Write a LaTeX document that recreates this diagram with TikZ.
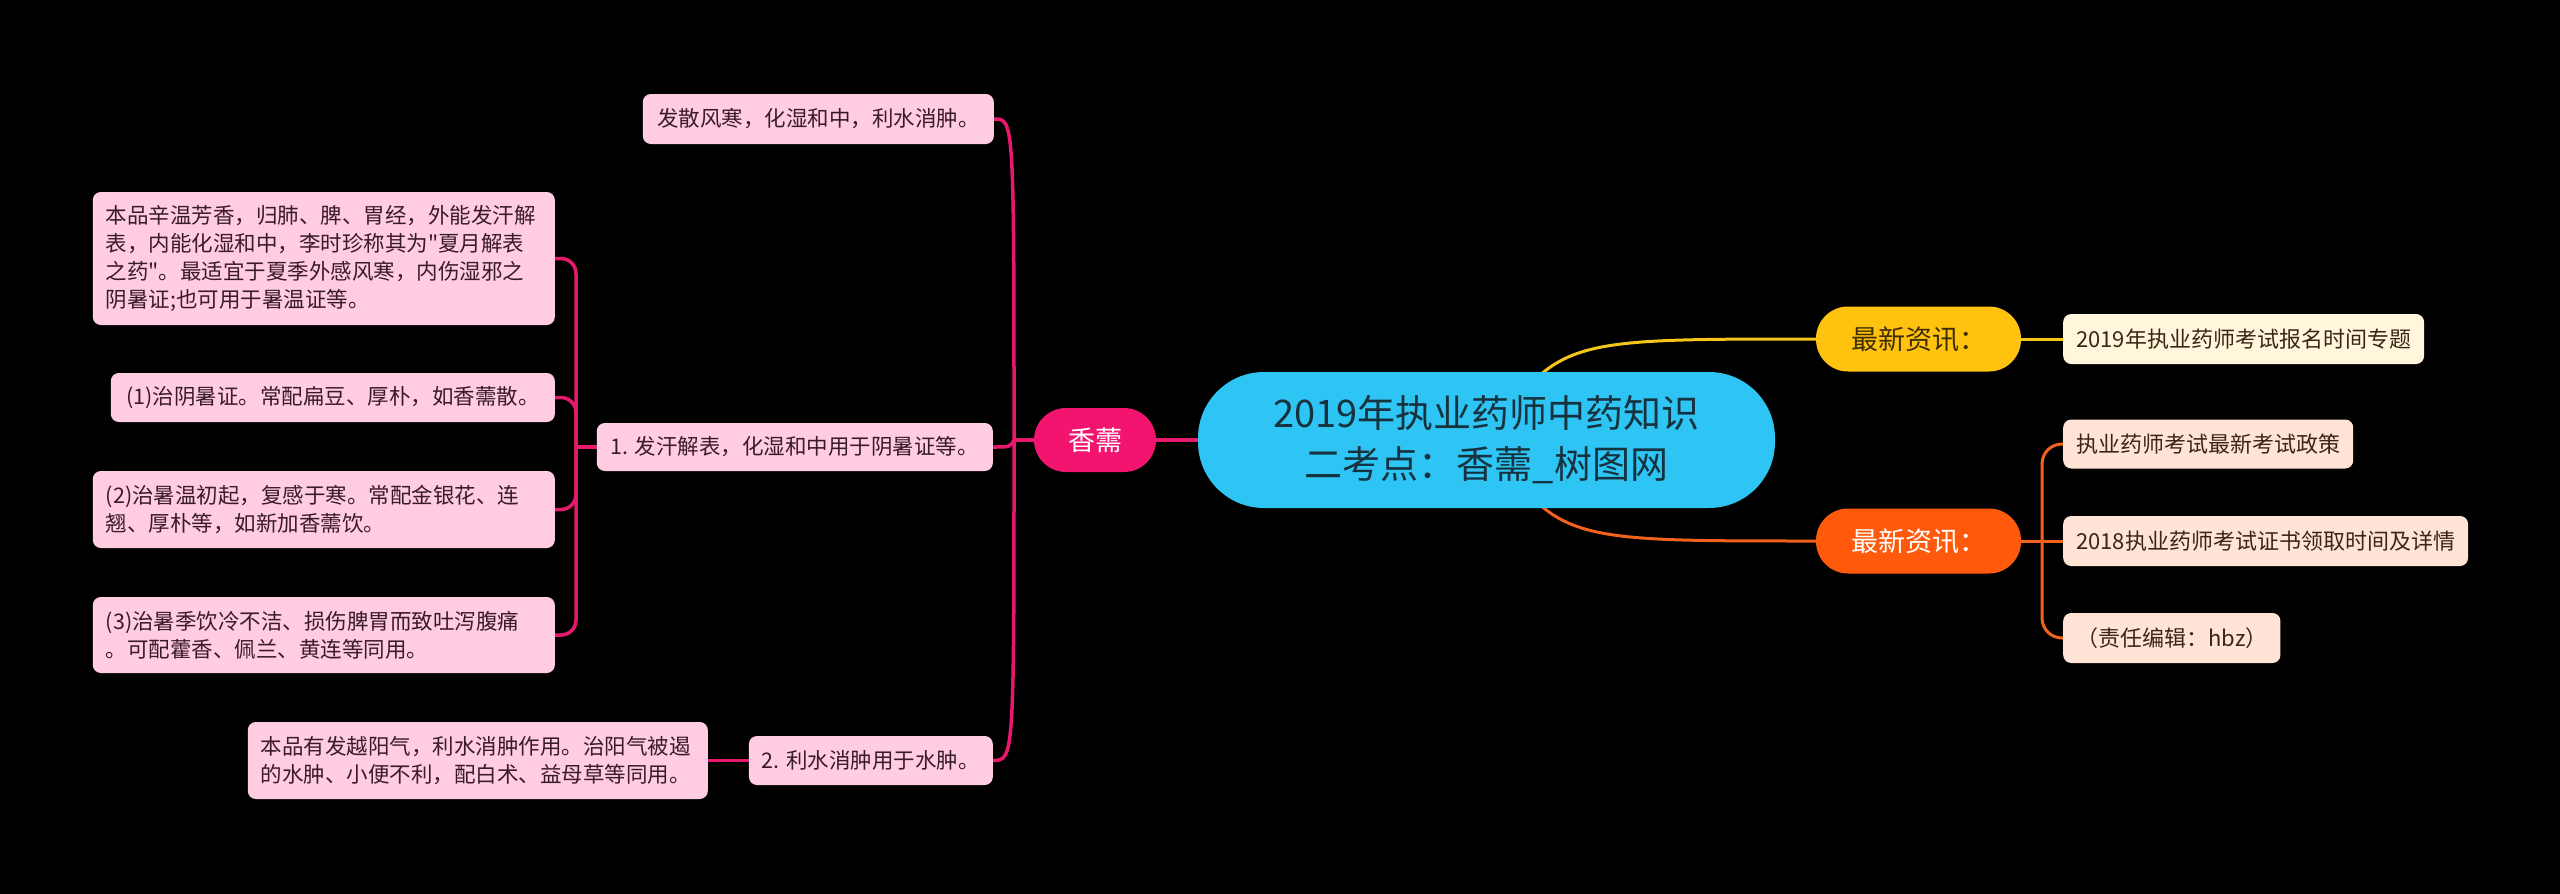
\documentclass[tikz,border=0pt]{standalone}
\usepackage{fontspec}
\setmainfont{Noto Sans CJK SC}
\pgfdeclarelayer{bg0}
\pgfdeclarelayer{lines}
\pgfsetlayers{bg0,lines,main}
\definecolor{magline}{HTML}{E8196C}
\definecolor{magfill}{HTML}{F2146E}
\definecolor{pinkfill}{HTML}{FFCCE1}
\definecolor{pinktext}{HTML}{3A1B29}
\definecolor{cyanfill}{HTML}{2EC4F3}
\definecolor{roottext}{HTML}{16323F}
\definecolor{yelfill}{HTML}{FFC20F}
\definecolor{yelline}{HTML}{F5C51C}
\definecolor{yeltext}{HTML}{3D2E05}
\definecolor{orgfill}{HTML}{FF5A0B}
\definecolor{orgline}{HTML}{F2621D}
\definecolor{creamfill}{HTML}{FFF6DB}
\definecolor{peachfill}{HTML}{FFE4D5}
\definecolor{leaftext}{HTML}{3A2615}
\tikzset{
  pinkbox/.style={fill=pinkfill, text=pinktext, rounded corners=8pt, inner xsep=13pt, inner ysep=0pt,
    font=\fontsize{21.5pt}{28pt}\selectfont},
  rightleaf/.style={text=leaftext, rounded corners=8pt, inner xsep=13pt, inner ysep=0pt,
    font=\fontsize{22pt}{28pt}\selectfont, anchor=west, minimum height=50pt},
  pill/.style={rounded corners=32pt, inner sep=0pt, minimum width=205pt, minimum height=65pt,
    font=\fontsize{27pt}{32pt}\selectfont},
  magl/.style={draw=magline, line width=3.5pt},
  yell/.style={draw=yelline, line width=3pt},
  orgl/.style={draw=orgline, line width=3pt}
}
\begin{document}
\begin{tikzpicture}[x=1pt,y=-1pt]
\useasboundingbox (0,0) rectangle (2560,894);
\begin{pgfonlayer}{bg0}
\fill[black] (0,0) rectangle (2560,894);
\end{pgfonlayer}

% central
\node[fill=cyanfill, text=roottext, rounded corners=66pt, minimum width=577pt, minimum height=136pt,
  align=center, font=\fontsize{38pt}{51pt}\selectfont] (root) at (1486.5,440)
  {2019年执业药师中药知识\\二考点：香薷\_树图网};

\node[pill, fill=magfill, text=white, minimum width=122pt, minimum height=64pt] (xr) at (1095,440) {香薷};

% left
\node[pinkbox, anchor=east, minimum width=351pt, minimum height=50pt] (a) at (994,119) {发散风寒，化湿和中，利水消肿。};
\node[pinkbox, anchor=east, text width=436pt, align=left, minimum height=133pt] (b) at (555,258.5)
  {本品辛温芳香，归肺、脾、胃经，外能发汗解\\表，内能化湿和中，李时珍称其为\textquotedbl 夏月解表\\之药\textquotedbl 。最适宜于夏季外感风寒，内伤湿邪之\\阴暑证;也可用于暑温证等。};
\node[pinkbox, anchor=east, minimum width=444pt, minimum height=49pt] (c) at (555,397.5) {(1)治阴暑证。常配扁豆、厚朴，如香薷散。};
\node[pinkbox, anchor=east, minimum width=396pt, minimum height=48pt] (d) at (993,447) {1. 发汗解表，化湿和中用于阴暑证等。};
\node[pinkbox, anchor=east, text width=436pt, align=left, minimum height=77pt] (e) at (555,509.5)
  {(2)治暑温初起，复感于寒。常配金银花、连\\翘、厚朴等，如新加香薷饮。};
\node[pinkbox, anchor=east, text width=436pt, align=left, minimum height=76pt] (f) at (555,635)
  {(3)治暑季饮冷不洁、损伤脾胃而致吐泻腹痛\\。可配藿香、佩兰、黄连等同用。};
\node[pinkbox, anchor=east, text width=434pt, align=left, minimum height=77pt] (g) at (708,760.5)
  {本品有发越阳气，利水消肿作用。治阳气被遏\\的水肿、小便不利，配白术、益母草等同用。};
\node[pinkbox, anchor=east, minimum width=242pt, minimum height=49pt] (h) at (993,760.5) {2. 利水消肿用于水肿。};

% right
\node[pill, fill=yelfill, text=yeltext] (yel) at (1918.5,339) {最新资讯：};
\node[pill, fill=orgfill, text=white] (org) at (1918.5,541) {最新资讯：};
\node[rightleaf, fill=creamfill, minimum width=358pt] (r1) at (2063,339) {2019年执业药师考试报名时间专题};
\node[rightleaf, fill=peachfill, minimum width=285pt, minimum height=49pt] (r2) at (2063,444) {执业药师考试最新考试政策};
\node[rightleaf, fill=peachfill, minimum width=402pt] (r3) at (2063,541) {2018执业药师考试证书领取时间及详情};
\node[rightleaf, fill=peachfill, minimum width=213pt] (r4) at (2063,638) {（责任编辑：hbz）};

\coordinate (p1) at (1014,440);
\coordinate (p2) at (576,447);
\coordinate (p3) at (2042,541);

\begin{pgfonlayer}{lines}
\draw[magl] (root.west) -- (xr.east);
\draw[magl] (xr.west) -- (p1);
\draw[magl] (p1) .. controls (1014,119) .. (a.east);
\draw[magl] (p1) .. controls (1010,447) .. (d.east);
\draw[magl] (p1) .. controls (1014,760) .. (h.east);
\draw[magl] (d.west) -- (p2);
\draw[magl, rounded corners=15pt] (p2) |- (b.east);
\draw[magl, rounded corners=15pt] (p2) |- (c.east);
\draw[magl, rounded corners=15pt] (p2) |- (e.east);
\draw[magl, rounded corners=15pt] (p2) |- (f.east);
\draw[magl] (g.east) -- (h.west);

\draw[yell] (root.center) .. controls (1560,339) .. (yel.west);
\draw[orgl] (root.center) .. controls (1560,541) .. (org.west);
\draw[yell] (yel.east) -- (r1.west);
\draw[orgl] (org.east) -- (p3);
\draw[orgl] (p3) -- (r3.west);
\draw[orgl, rounded corners=20pt] (p3) |- (r2.west);
\draw[orgl, rounded corners=20pt] (p3) |- (r4.west);
\end{pgfonlayer}
\end{tikzpicture}
\end{document}
